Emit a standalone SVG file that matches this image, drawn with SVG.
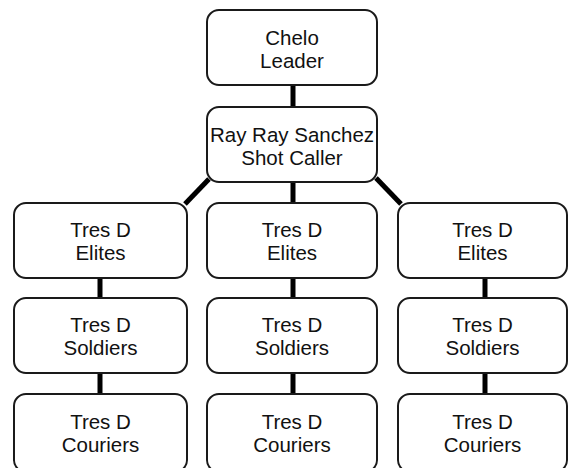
<svg xmlns="http://www.w3.org/2000/svg" width="570" height="468" viewBox="0 0 570 468">
  <style>
    .box { fill: #ffffff; stroke: #1a1a1a; stroke-width: 2; }
    .label { font-family: "Liberation Sans", Arial, sans-serif; font-size: 20.5px; fill: #111111; text-anchor: middle; }
    .link { stroke: #000000; stroke-width: 5; fill: none; }
  </style>
  <rect width="570" height="468" fill="#ffffff"/>

  <!-- connectors -->
  <g id="connectors">
    <line class="link" x1="293" y1="85" x2="293" y2="107"/>
    <line class="link" x1="293" y1="182" x2="293" y2="203"/>
    <line class="link" x1="209" y1="179" x2="185" y2="204"/>
    <line class="link" x1="376" y1="178" x2="401" y2="204"/>
    <line class="link" x1="100" y1="278" x2="100" y2="298"/>
    <line class="link" x1="100" y1="373" x2="100" y2="394"/>
    <line class="link" x1="293" y1="278" x2="293" y2="298"/>
    <line class="link" x1="293" y1="373" x2="293" y2="394"/>
    <line class="link" x1="485" y1="278" x2="485" y2="298"/>
    <line class="link" x1="485" y1="373" x2="485" y2="394"/>
  </g>

  <!-- leadership -->
  <g id="leader">
    <rect class="box" x="207" y="10" width="170" height="75" rx="12"/>
    <text class="label" x="292" y="45">Chelo</text>
    <text class="label" x="292" y="68">Leader</text>
  </g>
  <g id="shot-caller">
    <rect class="box" x="207" y="107" width="170" height="75" rx="12"/>
    <text class="label" x="292" y="142">Ray Ray Sanchez</text>
    <text class="label" x="292" y="165">Shot Caller</text>
  </g>

  <!-- left column -->
  <g id="elites-left">
    <rect class="box" x="14" y="203" width="173" height="75" rx="12"/>
    <text class="label" x="100.5" y="237">Tres D</text>
    <text class="label" x="100.5" y="260">Elites</text>
  </g>
  <g id="soldiers-left">
    <rect class="box" x="14" y="298" width="173" height="75" rx="12"/>
    <text class="label" x="100.5" y="332">Tres D</text>
    <text class="label" x="100.5" y="355">Soldiers</text>
  </g>
  <g id="couriers-left">
    <rect class="box" x="14" y="394" width="173" height="78" rx="12"/>
    <text class="label" x="100.5" y="429">Tres D</text>
    <text class="label" x="100.5" y="452">Couriers</text>
  </g>

  <!-- middle column -->
  <g id="elites-middle">
    <rect class="box" x="207" y="203" width="170" height="75" rx="12"/>
    <text class="label" x="292" y="237">Tres D</text>
    <text class="label" x="292" y="260">Elites</text>
  </g>
  <g id="soldiers-middle">
    <rect class="box" x="207" y="298" width="170" height="75" rx="12"/>
    <text class="label" x="292" y="332">Tres D</text>
    <text class="label" x="292" y="355">Soldiers</text>
  </g>
  <g id="couriers-middle">
    <rect class="box" x="207" y="394" width="170" height="78" rx="12"/>
    <text class="label" x="292" y="429">Tres D</text>
    <text class="label" x="292" y="452">Couriers</text>
  </g>

  <!-- right column -->
  <g id="elites-right">
    <rect class="box" x="398" y="203" width="169" height="75" rx="12"/>
    <text class="label" x="482.5" y="237">Tres D</text>
    <text class="label" x="482.5" y="260">Elites</text>
  </g>
  <g id="soldiers-right">
    <rect class="box" x="398" y="298" width="169" height="75" rx="12"/>
    <text class="label" x="482.5" y="332">Tres D</text>
    <text class="label" x="482.5" y="355">Soldiers</text>
  </g>
  <g id="couriers-right">
    <rect class="box" x="398" y="394" width="169" height="78" rx="12"/>
    <text class="label" x="482.5" y="429">Tres D</text>
    <text class="label" x="482.5" y="452">Couriers</text>
  </g>
</svg>
